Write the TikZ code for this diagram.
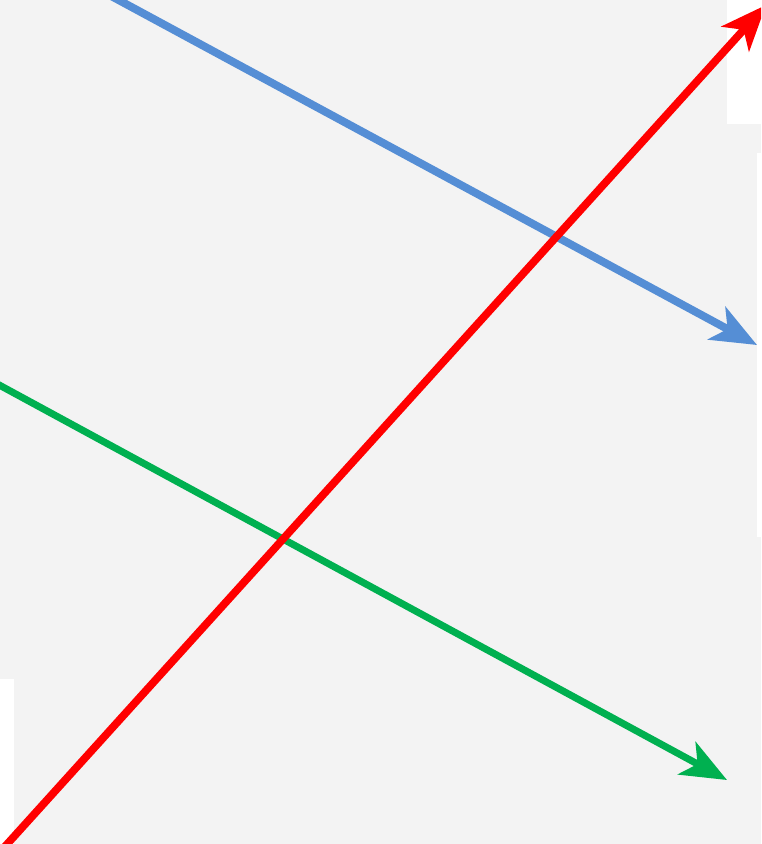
\documentclass[tikz,border=0pt]{standalone}
\usepackage{xcolor}
\usepackage{tikz}
\usetikzlibrary{arrows.meta}
\definecolor{cGrund}{RGB}{243,243,243}
\definecolor{cBlau}{RGB}{85,142,213}
\definecolor{cGruen}{RGB}{0,176,80}
\definecolor{cRot}{RGB}{255,0,0}

\begin{document}
\begin{tikzpicture}[x=0.02cm,y=-0.02cm,
  pfeil/.style={-{Stealth[length=26pt,width=21pt,inset=7pt]}}]
\useasboundingbox (0,0) rectangle (761,844);
\fill[cGrund] (0,0) rectangle (761,844);
\fill[white] (727,0) rectangle (761,124);
\fill[white] (757,153) rectangle (761,537);
\fill[white] (0,679) rectangle (14,844);
\clip (0,0) rectangle (761,844);
% Endpunkte
\coordinate (blauA) at (100,-10); \coordinate (blauB) at (757,345);
\coordinate (gruenA) at (-10,380); \coordinate (gruenB) at (727,780);
\coordinate (rotA) at (0,852); \coordinate (rotB) at (766,5);
\draw[pfeil,cBlau,line width=4.5pt] (blauA)--(blauB);
\draw[pfeil,cGruen,line width=4pt] (gruenA)--(gruenB);
\draw[pfeil,cRot,line width=4.4pt] (rotA)--(rotB);
\end{tikzpicture}
\end{document}
